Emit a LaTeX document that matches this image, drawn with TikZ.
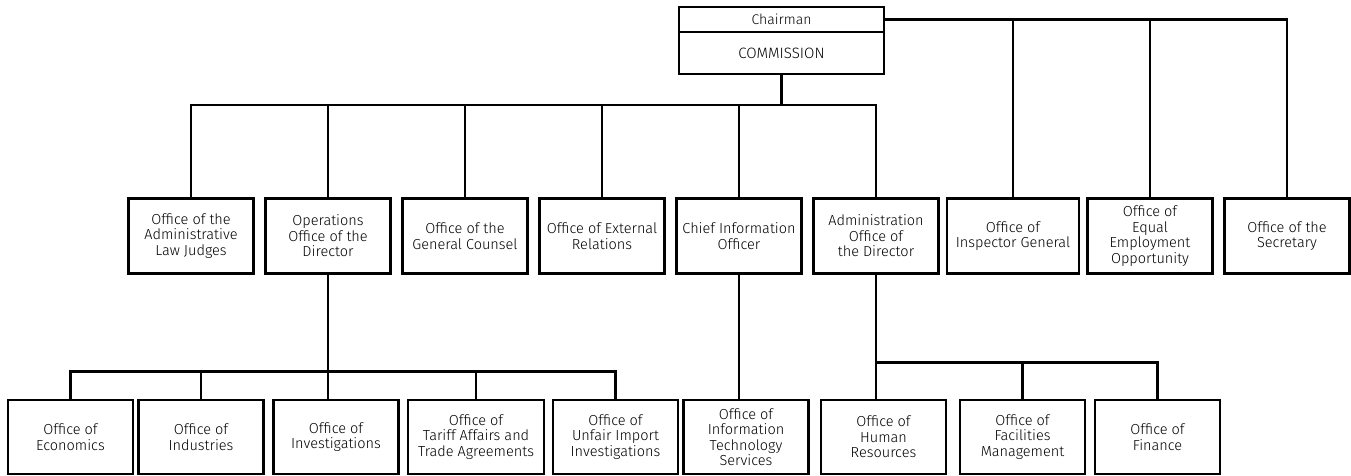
\documentclass[tikz,border=0pt]{standalone}
\usepackage{fontspec}
\setmainfont{Fira Sans Light}
\usepackage{tikz}
\usetikzlibrary{positioning}

\begin{document}
\begin{tikzpicture} [x = 1pt, y = -1pt, node distance = 137pt, on grid,
    office/.style = {draw, line width = 2.7pt, outer sep = 0pt, align = center,
        minimum width = 125pt, minimum height = 75pt, inner sep = 1pt,
        font = \fontsize{14.5pt}{15.5pt}\selectfont},
    low/.style = {office, minimum height = 74pt},
    link/.style = {line width = 2.7pt}]

\useasboundingbox (0,0) rectangle (1351,476);

\node (chair) [office, minimum width = 205pt, minimum height = 25pt,
    font = \fontsize{14pt}{15pt}\selectfont] at (781.5,19.5) {Chairman};
\node (comm) [office, minimum width = 205pt, minimum height = 42pt,
    font = \fontsize{15pt}{16pt}\selectfont, below = 33.5pt of chair] {COMMISSION};

\node (alj) [office] at (191,236) {Office of the\\Administrative\\Law Judges};
\node (ops) [office, right = of alj] {Operations\\Office of the\\Director};
\node (gc) [office, right = of ops] {Office of the\\General Counsel};
\node (er) [office, right = of gc] {Office of External\\Relations};
\node (cio) [office, right = of er] {Chief Information\\Officer};
\node (adm) [office, right = of cio] {Administration\\Office of\\the Director};
\node (ig) [office, minimum width = 132pt, right = of adm] {Office of\\Inspector General};
\node (eeo) [office, right = of ig] {Office of\\Equal\\Employment\\Opportunity};
\node (sec) [office, right = of eeo] {Office of the\\Secretary};

\node (econ) [low] at (70.5,437) {Office of\\Economics};
\node (ind) [low, right = 130.5pt of econ] {Office of\\Industries};
\node (inv) [low, right = 135pt of ind] {Office of\\Investigations};
\node (taa) [low, minimum width = 136pt, right = 140pt of inv] {Office of\\Tariff Affairs and\\Trade Agreements};
\node (uii) [low, right = 139.5pt of taa] {Office of\\Unfair Import\\Investigations};
\node (oits) [low, right = 130.5pt of uii] {Office of\\Information\\Technology\\Services};
\node (hr) [low, right = 137.5pt of oits] {Office of\\Human\\Resources};
\node (fac) [low, right = 139pt of hr] {Office of\\Facilities\\Management};
\node (fin) [low, right = 135pt of fac] {Office of\\Finance};

\coordinate [below = 31pt of comm.south] (topbus);
\coordinate [below = 98pt of ops.south] (opsbus);
\coordinate [below = 89pt of adm.south] (admbus);

\draw [link] (comm.south) -- (topbus);
\draw [link] (alj.north) |- (topbus);
\draw [link] (adm.north) |- (topbus);
\draw [link] (ops.north) -- (ops.north |- topbus);
\draw [link] (gc.north) -- (gc.north |- topbus);
\draw [link] (er.north) -- (er.north |- topbus);
\draw [link] (cio.north) -- (cio.north |- topbus);

\draw [link] (chair.east) -| (sec.north);
\draw [link] (ig.north) -- (ig.north |- chair.east);
\draw [link] (eeo.north) -- (eeo.north |- chair.east);

\draw [link] (ops.south) -- (ops.south |- inv.north);
\draw [link] (econ.north) |- (opsbus);
\draw [link] (uii.north) |- (opsbus);
\draw [link] (ind.north) -- (ind.north |- opsbus);
\draw [link] (taa.north) -- (taa.north |- opsbus);

\draw [link] (cio.south) -- (cio.south |- oits.north);

\draw [link] (adm.south) -- (adm.south |- hr.north);
\draw [link] (fin.north) |- (admbus);
\draw [link] (fac.north) -- (fac.north |- admbus);
\end{tikzpicture}
\end{document}
